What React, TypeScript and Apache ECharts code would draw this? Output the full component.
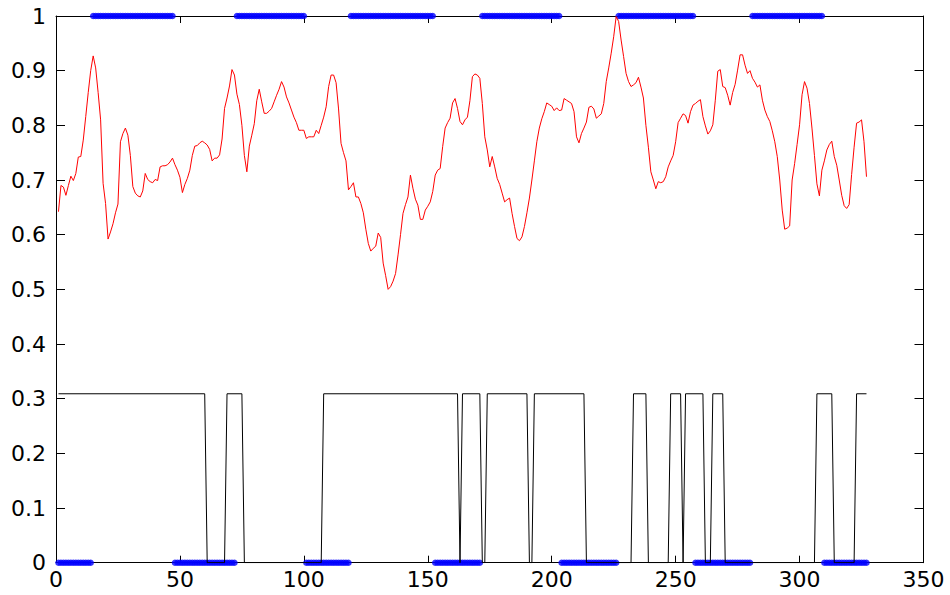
import React, { useEffect, useRef } from "react";
import * as echarts from "echarts";

// Red trace: one value per sample, samples 1..327
const redValues: number[] = [
  0.642, 0.690, 0.687, 0.672, 0.690, 0.707, 0.699, 0.712, 0.742, 0.743,
  0.773, 0.816, 0.860, 0.900, 0.927, 0.905, 0.860, 0.810, 0.694, 0.657,
  0.592, 0.605, 0.620, 0.640, 0.656, 0.770, 0.785, 0.795, 0.782, 0.745,
  0.688, 0.676, 0.671, 0.669, 0.680, 0.712, 0.701, 0.697, 0.695, 0.701,
  0.699, 0.724, 0.726, 0.726, 0.728, 0.733, 0.740, 0.728, 0.718, 0.705,
  0.677, 0.692, 0.703, 0.718, 0.745, 0.762, 0.763, 0.768, 0.771, 0.768,
  0.764, 0.756, 0.735, 0.740, 0.740, 0.746, 0.775, 0.831, 0.850, 0.872,
  0.902, 0.892, 0.857, 0.838, 0.800, 0.745, 0.715, 0.762, 0.782, 0.803,
  0.845, 0.866, 0.843, 0.822, 0.822, 0.826, 0.831, 0.843, 0.855, 0.866,
  0.880, 0.870, 0.852, 0.841, 0.828, 0.815, 0.805, 0.791, 0.791, 0.791,
  0.776, 0.779, 0.779, 0.779, 0.791, 0.785, 0.800, 0.815, 0.834, 0.871,
  0.892, 0.892, 0.878, 0.830, 0.767, 0.750, 0.735, 0.682, 0.688, 0.695,
  0.669, 0.669, 0.657, 0.640, 0.610, 0.584, 0.570, 0.575, 0.579, 0.603,
  0.595, 0.548, 0.525, 0.500, 0.505, 0.515, 0.529, 0.563, 0.600, 0.639,
  0.655, 0.669, 0.709, 0.685, 0.665, 0.654, 0.628, 0.628, 0.645, 0.652,
  0.660, 0.679, 0.709, 0.718, 0.721, 0.761, 0.795, 0.805, 0.813, 0.841,
  0.849, 0.831, 0.807, 0.801, 0.810, 0.815, 0.845, 0.889, 0.894, 0.892,
  0.886, 0.840, 0.779, 0.755, 0.724, 0.743, 0.724, 0.703, 0.692, 0.676,
  0.660, 0.664, 0.667, 0.639, 0.615, 0.593, 0.589, 0.596, 0.615, 0.640,
  0.667, 0.700, 0.735, 0.770, 0.795, 0.812, 0.825, 0.841, 0.838, 0.835,
  0.827, 0.832, 0.827, 0.828, 0.849, 0.846, 0.843, 0.840, 0.825, 0.779,
  0.768, 0.785, 0.795, 0.806, 0.833, 0.835, 0.830, 0.813, 0.817, 0.821,
  0.840, 0.880, 0.905, 0.932, 0.962, 0.999, 0.990, 0.956, 0.926, 0.895,
  0.880, 0.871, 0.874, 0.878, 0.888, 0.870, 0.850, 0.800, 0.760, 0.715,
  0.700, 0.684, 0.697, 0.695, 0.697, 0.706, 0.724, 0.735, 0.745, 0.770,
  0.805, 0.813, 0.821, 0.818, 0.804, 0.825, 0.837, 0.840, 0.844, 0.847,
  0.816, 0.799, 0.784, 0.790, 0.801, 0.846, 0.899, 0.902, 0.871, 0.869,
  0.855, 0.837, 0.860, 0.875, 0.901, 0.929, 0.929, 0.910, 0.895, 0.900,
  0.886, 0.879, 0.870, 0.874, 0.846, 0.828, 0.816, 0.807, 0.790, 0.770,
  0.743, 0.700, 0.645, 0.610, 0.612, 0.616, 0.700, 0.730, 0.765, 0.801,
  0.856, 0.880, 0.868, 0.840, 0.795, 0.745, 0.693, 0.671, 0.718, 0.735,
  0.755, 0.765, 0.771, 0.743, 0.727, 0.700, 0.672, 0.653, 0.648, 0.655,
  0.710, 0.760, 0.804, 0.806, 0.810, 0.770, 0.706,
];

// Blue class labels as runs of [label, sample count], starting at sample 1
const labelRuns: [number, number][] = [
  [0, 14], [1, 33], [0, 25], [1, 28], [0, 18], [1, 34], [0, 19],
  [1, 32], [0, 23], [1, 31], [0, 23], [1, 29], [0, 18],
];

// Black state signal as runs of [on/off, sample count], starting at sample 1
const stateRuns: [number, number][] = [
  [1, 60], [0, 8], [1, 7], [0, 32], [1, 55], [0, 1], [1, 8], [0, 2],
  [1, 17], [0, 2], [1, 21], [0, 19], [1, 6], [0, 9], [1, 5], [0, 1],
  [1, 8], [0, 3], [1, 5], [0, 37], [1, 7], [0, 9], [1, 5],
];
const stateLevel = 0.309;

const xTickLabels = ["0", "50", "100", "150", "200", "250", "300", "350"];
const yTickLabels = ["0", "0.1", "0.2", "0.3", "0.4", "0.5", "0.6", "0.7", "0.8", "0.9", "1"];

const redPoints = redValues.map((v, i) => [i + 1, v]);

const labelPoints: number[][] = [];
{
  let x = 1;
  for (const [lab, n] of labelRuns) {
    for (let k = 0; k < n; k++) labelPoints.push([x + k, lab]);
    x += n;
  }
}

const statePoints: number[][] = [];
{
  let x = 1;
  for (const [s, n] of stateRuns) {
    const y = s ? stateLevel : 0;
    statePoints.push([x, y]);
    if (n > 1) statePoints.push([x + n - 1, y]);
    x += n;
  }
}

const FONT = "DejaVu Sans";

export default function App() {
  const ref = useRef<HTMLDivElement>(null);

  useEffect(() => {
    if (!ref.current) return;
    const chart = echarts.init(ref.current, undefined, { renderer: "svg" });

    const lineCommon = { lineStyle: { color: "#000", width: 1 }, onZero: false };
    const xCommon = {
      type: "value" as const,
      min: 0,
      max: 350,
      interval: 50,
      splitLine: { show: false },
      axisLine: { show: true, ...lineCommon },
      axisTick: { show: true, inside: true, length: 7, lineStyle: { color: "#000", width: 1 } },
    };
    const yCommon = {
      type: "value" as const,
      min: 0,
      max: 1,
      interval: 0.1,
      splitLine: { show: false },
      axisLine: { show: true, ...lineCommon },
      axisTick: { show: true, inside: true, length: 9, lineStyle: { color: "#000", width: 1 } },
    };

    chart.setOption({
      animation: false,
      backgroundColor: "#ffffff",
      grid: { left: 56, right: 26.5, top: 16, bottom: 32.3, show: false },
      xAxis: [
        {
          ...xCommon,
          position: "bottom",
          axisLabel: {
            show: true,
            color: "#000",
            fontFamily: FONT,
            fontSize: 22,
            margin: 6,
            formatter: (v: number) => xTickLabels[Math.round(v / 50)] ?? "",
          },
        },
        { ...xCommon, position: "top", axisLabel: { show: false } },
      ],
      yAxis: [
        {
          ...yCommon,
          position: "left",
          axisLabel: {
            show: true,
            color: "#000",
            fontFamily: FONT,
            fontSize: 22,
            margin: 10,
            formatter: (v: number) => yTickLabels[Math.round(v * 10)] ?? "",
          },
        },
        { ...yCommon, position: "right", axisLabel: { show: false } },
      ],
      series: [
        {
          type: "scatter",
          xAxisIndex: 0,
          yAxisIndex: 0,
          data: labelPoints,
          symbol: "circle",
          symbolSize: 6.5,
          itemStyle: { color: "#0000ff" },
          clip: false,
          z: 3,
        },
        {
          type: "line",
          xAxisIndex: 0,
          yAxisIndex: 0,
          data: redPoints,
          showSymbol: false,
          symbol: "none",
          lineStyle: { color: "#ff0000", width: 1 },
          z: 4,
        },
        {
          type: "line",
          xAxisIndex: 0,
          yAxisIndex: 0,
          data: statePoints,
          showSymbol: false,
          symbol: "none",
          lineStyle: { color: "#000000", width: 1 },
          z: 5,
        },
      ],
    });

    return () => chart.dispose();
  }, []);

  return (
    <div
      ref={ref}
      style={{ position: "absolute", left: 0, top: 0, width: 950, height: 595, background: "#fff" }}
    />
  );
}
